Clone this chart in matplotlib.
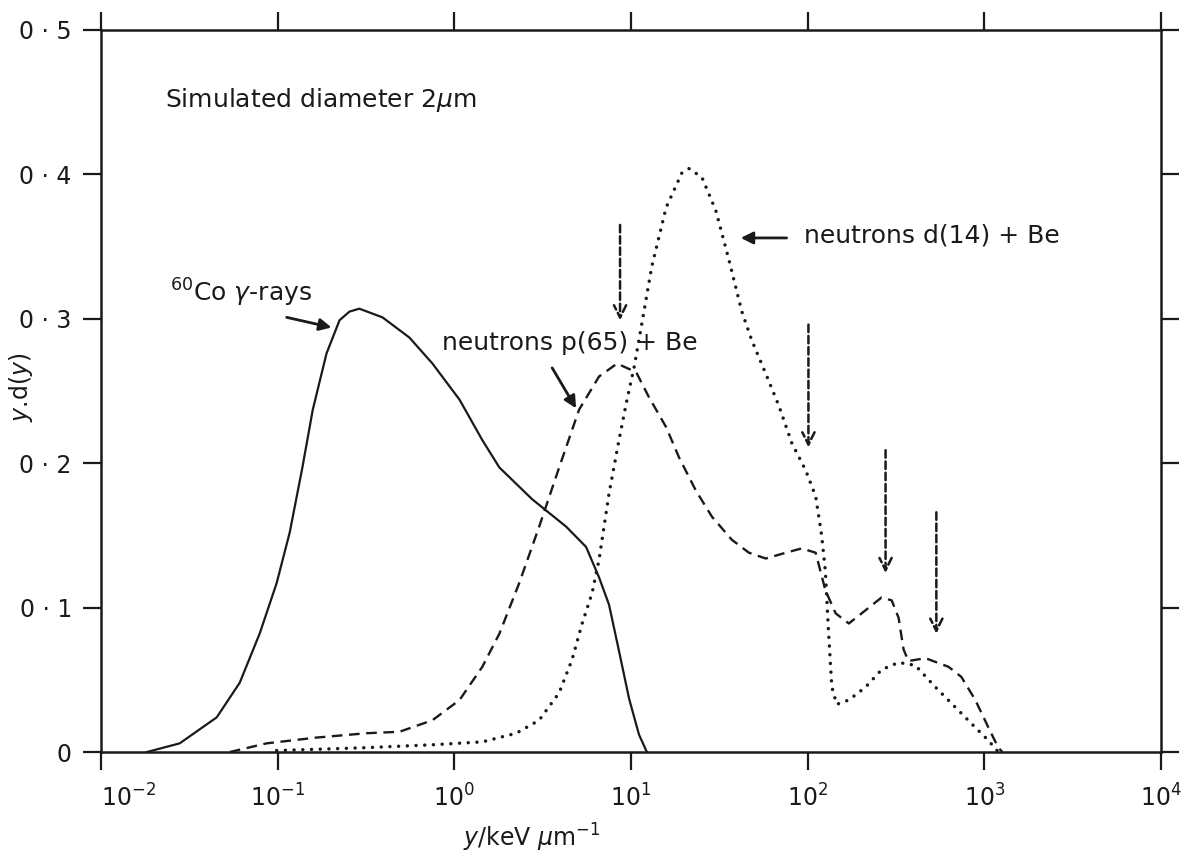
import numpy as np
import matplotlib
matplotlib.use("Agg")
import matplotlib.pyplot as plt
from matplotlib.ticker import FixedLocator, FixedFormatter

# 60Co gamma-rays (solid)
co_x = [0.0182, 0.0279, 0.0452, 0.0610, 0.0791, 0.0987, 0.117, 0.138, 0.158, 0.189,
        0.224, 0.255, 0.290, 0.392, 0.557, 0.752, 1.07, 1.44, 1.80, 2.76, 4.30,
        5.57, 6.59, 7.51, 8.55, 9.75, 11.1, 12.3]
co_y = [0.000, 0.006, 0.024, 0.048, 0.082, 0.117, 0.152, 0.197, 0.237, 0.276,
        0.299, 0.305, 0.307, 0.301, 0.287, 0.269, 0.244, 0.216, 0.197, 0.175, 0.156,
        0.142, 0.121, 0.102, 0.070, 0.037, 0.012, 0.000]

# neutrons p(65)+Be (dashed)
p65_x = [0.0536, 0.0867, 0.166, 0.318, 0.489, 0.752, 1.07, 1.44, 1.80, 2.33,
         3.02, 3.92, 5.08, 6.59, 8.34, 10.7, 12.6, 15.8, 18.7, 23.3,
         28.7, 37.2, 46.5, 57.9, 75.2, 92.5, 111, 126, 144, 171,
         202, 262, 299, 327, 349, 372, 464, 627, 741, 889,
         1054, 1200, 1265]
p65_y = [0.000, 0.006, 0.010, 0.013, 0.014, 0.022, 0.036, 0.059, 0.082, 0.117,
         0.156, 0.197, 0.237, 0.260, 0.269, 0.263, 0.246, 0.225, 0.204, 0.181,
         0.163, 0.147, 0.138, 0.134, 0.138, 0.141, 0.138, 0.112, 0.096, 0.089,
         0.096, 0.107, 0.105, 0.093, 0.071, 0.063, 0.065, 0.059, 0.052, 0.036,
         0.017, 0.003, 0.000]

# neutrons d(14)+Be (dotted)
d14_x = [0.0987, 0.318, 0.752, 1.44, 2.24, 3.02, 3.92, 4.64, 5.29, 6.02,
         6.59, 7.51, 8.55, 9.49, 10.4, 11.8, 13.1, 15.8, 19.4, 21.3,
         25.2, 30.2, 35.8, 42.4, 48.3, 57.9, 68.6, 81.3, 97.5, 111,
         120, 126, 131, 137, 146, 171, 213, 262, 327, 407,
         528, 685, 889, 1054, 1200]
d14_y = [0.001, 0.003, 0.005, 0.007, 0.013, 0.022, 0.041, 0.064, 0.089, 0.110,
         0.133, 0.179, 0.216, 0.244, 0.266, 0.304, 0.336, 0.377, 0.401, 0.404,
         0.398, 0.375, 0.341, 0.305, 0.285, 0.262, 0.240, 0.214, 0.195, 0.177,
         0.150, 0.125, 0.085, 0.045, 0.033, 0.036, 0.045, 0.057, 0.062, 0.060,
         0.045, 0.031, 0.017, 0.008, 0.000]

# vertical dashed marker arrows (x, y_start, y_end)
mark_x = [8.67, 101, 276, 535]
mark_top = [0.365, 0.296, 0.209, 0.166]
mark_bot = [0.299, 0.211, 0.124, 0.082]

x_ticks = [1e-2, 1e-1, 1e0, 1e1, 1e2, 1e3, 1e4]
x_labels = [r"$\mathregular{10^{-2}}$", r"$\mathregular{10^{-1}}$", r"$\mathregular{10^{0}}$",
            r"$\mathregular{10^{1}}$", r"$\mathregular{10^{2}}$", r"$\mathregular{10^{3}}$",
            r"$\mathregular{10^{4}}$"]
y_ticks = [0, 0.1, 0.2, 0.3, 0.4, 0.5]
y_labels = ["0", "0 · 1", "0 · 2", "0 · 3", "0 · 4", "0 · 5"]

plt.rcParams['font.family'] = ['DejaVu Sans']
plt.rcParams['mathtext.fontset'] = 'dejavusans'
ink = '#1a1a1a'

fig = plt.figure(figsize=(11.9, 8.58), dpi=100)
ax = fig.add_axes([101/1190, 1 - 752/858, 1060/1190, 722/858])

ax.plot(co_x, co_y, color=ink, lw=1.6, solid_joinstyle='round')
ax.plot(p65_x, p65_y, color=ink, lw=1.7, linestyle=(0, (4.5, 2.8)))
ax.plot(d14_x, d14_y, color=ink, lw=2.5, linestyle=(0, (0.01, 2.5)),
        dash_capstyle='round')

for xm, yt, yb in zip(mark_x, mark_top, mark_bot):
    ax.annotate('', xy=(xm, yb), xytext=(xm, yt),
                arrowprops=dict(arrowstyle='->', color=ink, lw=1.8,
                                linestyle=(0, (3, 1.5)), mutation_scale=22,
                                shrinkA=0, shrinkB=0))

# label arrows
ax.annotate('', xy=(0.2018, 0.294), xytext=(0.1125, 0.301),
            arrowprops=dict(arrowstyle='-|>', color=ink, lw=2, mutation_scale=18,
                            shrinkA=0, shrinkB=0))
ax.annotate('', xy=(4.89, 0.238), xytext=(3.58, 0.266),
            arrowprops=dict(arrowstyle='-|>', color=ink, lw=2, mutation_scale=18,
                            shrinkA=0, shrinkB=0))
ax.annotate('', xy=(41.8, 0.356), xytext=(76.0, 0.356),
            arrowprops=dict(arrowstyle='-|>', color=ink, lw=2, mutation_scale=18,
                            shrinkA=0, shrinkB=0))

fs = 18
ax.text(0.0230, 0.4515, r"Simulated diameter 2$\mu$m", fontsize=fs, color=ink,
        ha='left', va='center')
ax.text(0.0245, 0.318, r"$^{60}$Co $\gamma$-rays", fontsize=fs, color=ink,
        ha='left', va='center')
ax.text(0.855, 0.283, "neutrons p(65) + Be", fontsize=fs, color=ink,
        ha='left', va='center')
ax.text(94.8, 0.358, "neutrons d(14) + Be", fontsize=fs, color=ink,
        ha='left', va='center')

ax.set_xscale('log')
ax.set_xlim(1e-2, 1e4)
ax.set_ylim(0, 0.5)
ax.xaxis.set_major_locator(FixedLocator(x_ticks))
ax.xaxis.set_major_formatter(FixedFormatter(x_labels))
ax.xaxis.set_minor_locator(FixedLocator([]))
ax.yaxis.set_major_locator(FixedLocator(y_ticks))
ax.yaxis.set_major_formatter(FixedFormatter(y_labels))

ax.tick_params(axis='both', which='major', direction='out', length=13, width=1.6,
               color=ink, labelcolor=ink, labelsize=17,
               top=True, right=True, labeltop=False, labelright=False)
ax.tick_params(axis='x', pad=10)
ax.tick_params(axis='y', pad=8)
ax.get_xticklabels()[0].set_horizontalalignment('left')
for sp in ax.spines.values():
    sp.set_linewidth(1.8)
    sp.set_color(ink)

ax.set_xlabel(r"$y$/keV $\mu$m$^{-1}$", fontsize=17, color=ink)
ax.xaxis.set_label_coords(0.406, -0.096)
ax.set_ylabel(r"$y$.d($y$)", fontsize=17, color=ink)
ax.yaxis.set_label_coords(-0.062, 0.505)

fig.savefig('out.png', dpi=100)
